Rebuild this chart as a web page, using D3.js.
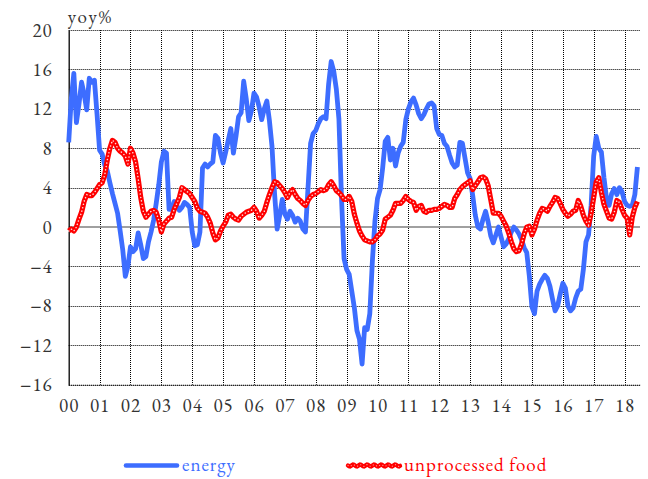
<!DOCTYPE html>
<html>
<head>
<meta charset="utf-8">
<script src="https://cdn.jsdelivr.net/npm/d3@7"></script>
<style>
  html, body { margin: 0; padding: 0; background: #fff; }
  svg { display: block; }
</style>
</head>
<body>
<svg id="chart" width="648" height="479"></svg>
<script>
// Year-on-year change, monthly from Jan 2000
const yearLabels = ["00","01","02","03","04","05","06","07","08","09","10","11","12","13","14","15","16","17","18"];
const yTicks = [-16, -12, -8, -4, 0, 4, 8, 12, 16, 20];

const energy = [
  8.6,13.0,15.6,10.6,12.5,14.7,13.5,11.9,15.1,14.7,14.9,11.5,
  7.8,7.4,6.3,5.7,4.5,3.4,2.4,1.4,-0.4,-2.3,-5.0,-4.0,
  -2.0,-2.5,-2.2,-0.6,-1.8,-3.2,-3.0,-1.5,-0.5,0.7,2.4,4.3,
  6.6,7.7,7.5,1.8,1.8,2.6,2.2,1.7,2.0,2.5,2.3,2.0,
  -0.5,-1.9,-1.8,-0.5,6.0,6.4,6.1,6.4,6.6,9.3,9.0,7.5,
  6.5,7.6,8.8,10.0,7.5,9.2,11.2,11.6,14.8,13.0,10.8,11.8,
  13.6,13.2,12.2,10.9,12.0,12.8,10.8,8.2,3.4,-0.2,1.2,2.8,
  1.3,0.8,1.6,1.2,0.5,0.9,0.6,-0.2,-0.5,4.0,8.5,9.5,
  9.8,10.5,11.0,11.2,11.0,14.5,16.8,15.8,14.0,11.0,3.0,-3.2,
  -4.3,-4.8,-6.5,-8.2,-10.5,-11.4,-13.9,-10.2,-10.4,-8.8,-3.5,0.6,
  2.9,3.8,6.0,8.7,9.1,6.8,8.0,6.2,7.5,8.2,8.6,10.9,
  12.0,12.7,13.1,12.4,11.5,11.0,11.4,12.0,12.5,12.6,12.3,10.0,
  9.4,9.3,8.5,8.2,7.3,6.5,6.1,6.3,8.6,8.5,7.0,5.5,
  4.9,3.2,1.2,0.0,-0.2,0.8,1.6,0.5,-0.9,-1.6,-0.8,0.0,
  -1.0,-2.0,-1.7,-1.2,-0.5,0.0,-0.3,-0.7,-1.3,-2.1,-2.6,-5.0,
  -8.1,-8.8,-6.5,-5.8,-5.3,-4.9,-5.2,-6.0,-7.3,-8.5,-8.0,-6.8,
  -5.7,-6.2,-8.0,-8.5,-8.2,-7.2,-6.5,-6.3,-4.3,-1.5,-0.8,2.2,
  7.2,9.2,8.0,7.6,5.0,2.9,2.2,3.4,3.9,3.3,4.0,3.6,
  2.6,2.2,2.1,2.2,3.3,6.1
];

const unprocessedFood = [
  -0.4,-0.2,-0.4,0.0,0.8,1.5,2.6,3.3,3.2,3.2,3.5,3.9,
  4.3,4.5,5.3,6.8,8.0,8.8,8.6,8.0,7.7,7.5,7.2,6.4,
  8.0,7.5,6.6,4.9,3.0,1.6,1.0,1.3,1.6,1.7,1.5,0.7,
  -0.5,0.3,0.6,0.9,1.0,1.8,2.4,3.0,4.0,3.8,3.6,3.4,
  3.0,2.6,1.9,1.6,1.5,1.4,1.0,0.4,-0.6,-1.3,-1.1,-0.4,
  0.1,0.5,1.2,1.3,1.0,0.8,0.7,1.1,1.3,1.5,1.6,1.7,
  2.0,1.6,0.9,1.2,1.6,2.5,3.3,4.0,4.6,4.5,4.2,3.9,
  3.5,3.0,3.5,3.8,3.3,2.9,2.7,2.4,2.2,2.7,3.1,3.3,
  3.4,3.6,3.8,3.7,3.8,4.3,4.6,4.2,3.7,3.5,3.2,2.8,
  2.8,3.1,2.6,1.3,0.4,-0.4,-0.9,-1.3,-1.4,-1.5,-1.5,-1.3,
  -0.9,-0.7,-0.3,0.8,1.0,1.2,1.7,2.4,2.4,2.4,2.7,3.1,
  2.8,2.6,2.5,1.7,2.1,2.2,1.6,1.5,1.7,1.7,1.8,1.8,
  1.9,2.1,2.3,2.2,2.0,2.0,2.9,3.3,3.8,4.1,4.3,4.5,
  4.7,3.8,4.2,4.6,5.0,5.1,4.9,4.2,2.8,1.4,1.4,1.4,
  1.1,0.6,0.1,-0.6,-1.5,-2.2,-2.5,-2.4,-1.7,-0.7,0.0,0.1,
  -0.8,-0.2,0.7,1.4,1.9,1.8,1.6,2.1,2.5,3.0,2.9,2.4,
  1.8,1.4,1.1,1.3,1.6,1.7,2.7,2.1,1.2,0.6,0.2,1.4,
  3.0,4.6,5.0,3.5,2.3,1.6,0.9,0.8,1.5,2.7,2.5,1.8,
  1.2,0.9,-0.8,1.0,2.0,2.6
];

const seriesNames = ["energy", "unprocessed food"];
const BLUE = "#3d6dff";
const RED = "#ff0000";
const TEXT = "#333333";
const FONT = '"EB Garamond", "Liberation Serif", serif';
const FONT_SIZE = 19;

const svg = d3.select("#chart");
const plotLeft = 68.7, plotRight = 640, plotTop = 30, plotBottom = 384.7;

// x in months since Jan 2000; the axis spans 18.5 years
const x = d3.scaleLinear().domain([0, 222]).range([plotLeft, plotRight]);
const y = d3.scaleLinear().domain([-16, 20]).range([plotBottom, plotTop]);

function styleText(sel, spacing, color) {
  sel.style("font-family", FONT).style("font-size", FONT_SIZE + "px")
     .style("letter-spacing", spacing + "px").attr("fill", color);
}

// dotted grid
const grid = svg.append("g");
grid.selectAll("line.h").data(yTicks.filter(v => v !== 0)).enter().append("line")
  .attr("x1", plotLeft).attr("x2", plotRight)
  .attr("y1", d => Math.round(y(d)) + 0.5).attr("y2", d => Math.round(y(d)) + 0.5)
  .attr("stroke", "#000").attr("stroke-width", 1).attr("stroke-dasharray", "1,1");
grid.selectAll("line.v").data(yearLabels.slice(1)).enter().append("line")
  .attr("x1", (d, i) => Math.round(x((i + 1) * 12)) + 0.5)
  .attr("x2", (d, i) => Math.round(x((i + 1) * 12)) + 0.5)
  .attr("y1", plotTop).attr("y2", plotBottom)
  .attr("stroke", "#000").attr("stroke-width", 1).attr("stroke-dasharray", "1,1");

// zero line
svg.append("line")
  .attr("x1", plotLeft).attr("x2", plotRight)
  .attr("y1", y(0)).attr("y2", y(0))
  .attr("stroke", "#808080").attr("stroke-width", 1.6);

// y axis
const yAxis = d3.axisLeft(y).tickValues(yTicks).tickSize(0).tickPadding(16);
const gy = svg.append("g").attr("transform", `translate(${plotLeft},0)`).call(yAxis);
gy.select(".domain").attr("stroke", "#000").attr("stroke-width", 1.3);
styleText(gy.selectAll("text"), 1.0, TEXT);

// x axis
const xAxis = d3.axisBottom(x).tickValues(yearLabels.map((d, i) => i * 12))
  .tickFormat((d, i) => yearLabels[i]).tickSize(0).tickPadding(14);
const gx = svg.append("g").attr("transform", `translate(0,${plotBottom})`).call(xAxis);
gx.select(".domain").attr("stroke", "#000").attr("stroke-width", 1).attr("stroke-dasharray", "1,1");
styleText(gx.selectAll("text"), 1.0, TEXT);

// unit label
styleText(svg.append("text").attr("x", plotLeft - 1).attr("y", 23).text("yoy%"), 2.0, TEXT);

const line = d3.line().x((d, i) => x(i)).y(d => y(d));

// energy
svg.append("path").datum(energy).attr("d", line)
  .attr("fill", "none").attr("stroke", BLUE).attr("stroke-width", 4.8)
  .attr("stroke-linejoin", "round");

// unprocessed food: red line with white dotted core
svg.append("path").datum(unprocessedFood).attr("d", line)
  .attr("fill", "none").attr("stroke", RED).attr("stroke-width", 5.2)
  .attr("stroke-linejoin", "round");
svg.append("path").datum(unprocessedFood).attr("d", line)
  .attr("fill", "none").attr("stroke", "#fff").attr("stroke-width", 1.5)
  .attr("stroke-opacity", 0.85)
  .attr("stroke-dasharray", "0.1,3.4").attr("stroke-linecap", "round");

// legend
const legend = svg.append("g");
legend.append("line").attr("x1", 126).attr("x2", 177).attr("y1", 465.5).attr("y2", 465.5)
  .attr("stroke", BLUE).attr("stroke-width", 4.6).attr("stroke-linecap", "round");
styleText(legend.append("text").attr("x", 182).attr("y", 470.5).text(seriesNames[0]), 1.0, BLUE);

const wave = d3.range(0, 53, 1).map(t => [348 + t, 465.5 + 0.9 * Math.sin(t * Math.PI / 3.5)]);
legend.append("path").attr("d", d3.line()(wave))
  .attr("fill", "none").attr("stroke", RED).attr("stroke-width", 4.4).attr("stroke-linecap", "round");
legend.append("path").attr("d", d3.line()(wave))
  .attr("fill", "none").attr("stroke", "#fff").attr("stroke-width", 1.2).attr("stroke-opacity", 0.6)
  .attr("stroke-dasharray", "0.1,3.5").attr("stroke-linecap", "round");
styleText(legend.append("text").attr("x", 404).attr("y", 470.5).text(seriesNames[1]), 1.0, RED);
</script>
</body>
</html>
